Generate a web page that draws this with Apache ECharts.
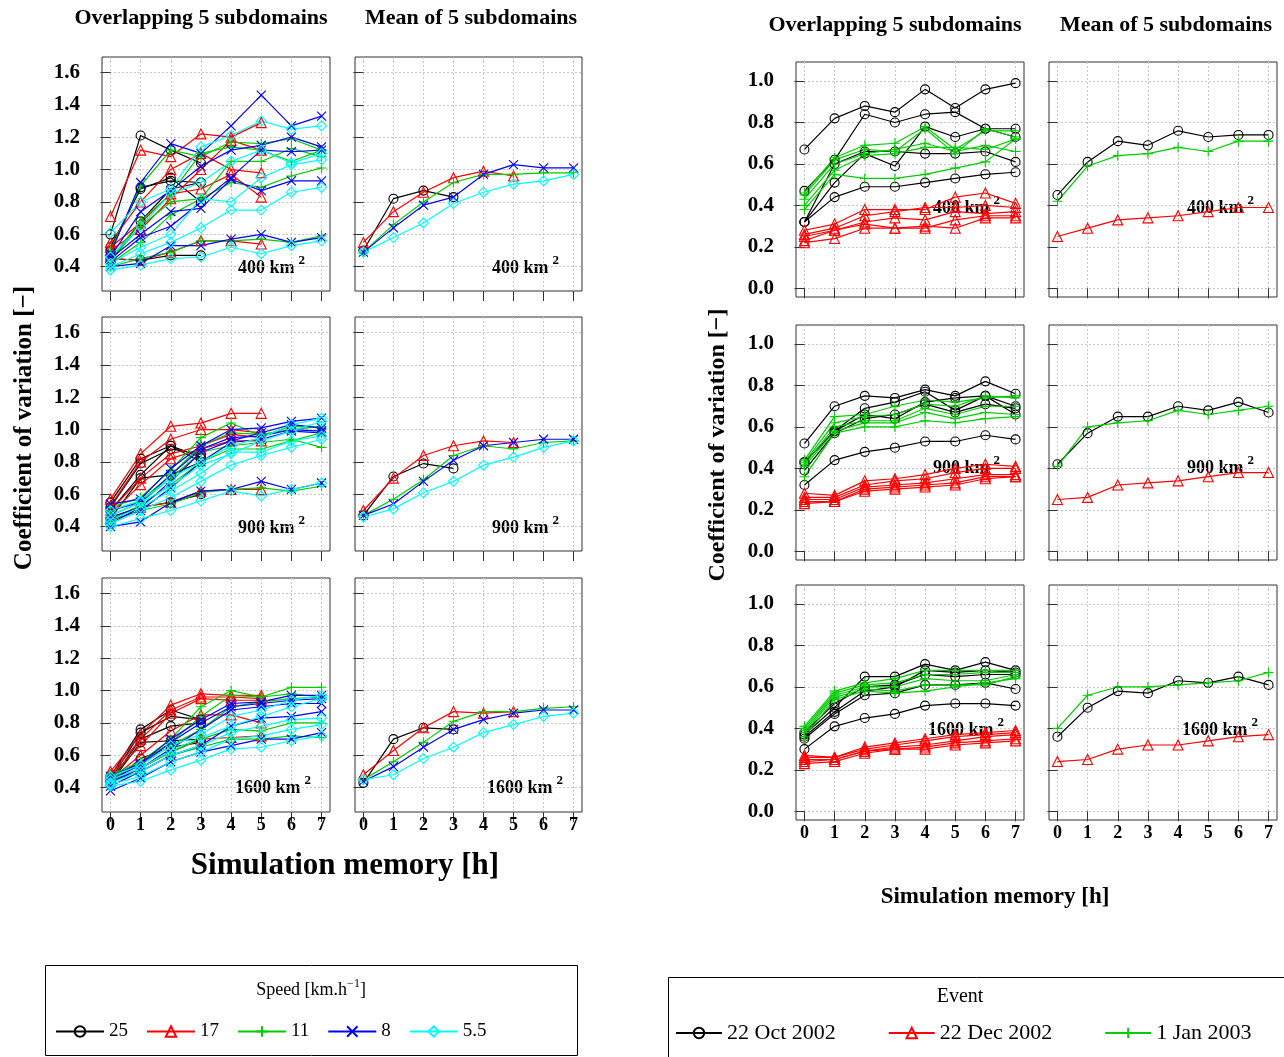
<!DOCTYPE html>
<html>
<head>
<meta charset="utf-8">
<script src="https://cdn.jsdelivr.net/npm/echarts@6/dist/echarts.min.js"></script>
<style>
  html, body { margin: 0; padding: 0; background: #fff; }
  #chart { width: 1284px; height: 1057px; }
</style>
</head>
<body>
<div id="chart"></div>
<script>
// x axis: simulation memory in hours
const memoryHours = [0, 1, 2, 3, 4, 5, 6, 7];
const yTicksSpeed = [0.4, 0.6, 0.8, 1.0, 1.2, 1.4, 1.6];
const yTicksEvent = [0, 0.2, 0.4, 0.6, 0.8, 1.0];
const speedNames = ['25', '17', '11', '8', '5.5'];
const eventNames = ['22 Oct 2002', '22 Dec 2002', '1 Jan 2003'];
const areaNames = ['400', '900', '1600'];

// ---- left figure: overlapping 5 subdomains, one array per area and speed ----
const ovl400_25 = [[0.60,1.21,1.12,1.04],[0.50,0.89,0.93,0.92],[0.52,0.88,0.95,0.80],[0.45,0.44,0.47,0.47],[0.43,0.68,0.88,0.92]];
const ovl400_17 = [[0.71,1.12,1.08,1.22,1.20,1.29],[0.55,0.80,1.00,1.10,1.00,0.98],[0.52,0.67,0.85,0.88,0.97,0.83],[0.50,0.63,0.82,1.00,1.18,1.12],[0.45,0.44,0.49,0.56,0.56,0.54]];
const ovl400_11 = [[0.50,0.90,1.12,1.08,1.17,1.16,1.19,1.12],[0.45,0.68,0.85,1.10,1.14,1.12,1.05,1.12],[0.44,0.65,0.80,0.82,0.92,0.89,0.96,1.01],[0.42,0.55,0.72,0.82,1.05,1.05,1.13,1.08],[0.40,0.45,0.49,0.56,0.56,0.57,0.55,0.59]];
const ovl400_8 = [[0.48,0.92,1.16,1.10,1.27,1.46,1.27,1.33],[0.46,0.74,0.87,1.02,1.12,1.15,1.20,1.14],[0.45,0.60,0.74,0.76,0.94,0.87,0.93,0.93],[0.43,0.58,0.65,0.80,0.95,1.12,1.11,1.12],[0.40,0.42,0.53,0.53,0.57,0.60,0.55,0.58]];
const ovl400_55 = [[0.61,0.80,0.88,1.14,1.21,1.30,1.25,1.27],[0.46,0.65,0.85,0.92,1.05,1.12,1.04,1.10],[0.42,0.52,0.60,0.82,0.80,0.95,1.03,1.06],[0.40,0.48,0.55,0.64,0.75,0.75,0.86,0.89],[0.38,0.41,0.45,0.46,0.52,0.48,0.53,0.56]];

const ovl900_25 = [[0.55,0.82,0.90,0.80],[0.52,0.79,0.88,0.85],[0.50,0.72,0.90,0.83],[0.45,0.70,0.72,0.80],[0.42,0.52,0.55,0.60]];
const ovl900_17 = [[0.57,0.85,1.02,1.04,1.10,1.10],[0.53,0.80,0.94,1.00,1.00,0.98],[0.50,0.70,0.85,0.90,0.97,0.95],[0.48,0.66,0.82,0.88,0.93,0.93],[0.45,0.52,0.55,0.62,0.63,0.63]];
const ovl900_11 = [[0.52,0.58,0.75,0.95,1.04,0.96,1.02,1.01],[0.50,0.56,0.72,0.90,0.98,0.97,1.00,1.02],[0.47,0.55,0.70,0.86,0.90,0.92,0.94,0.89],[0.45,0.53,0.66,0.80,0.88,0.88,0.93,0.98],[0.42,0.50,0.54,0.61,0.63,0.64,0.62,0.65]];
const ovl900_8 = [[0.54,0.57,0.76,0.90,1.00,1.01,1.05,1.07],[0.50,0.55,0.72,0.88,0.95,0.96,1.00,0.99],[0.46,0.52,0.68,0.86,0.93,0.98,1.03,1.01],[0.44,0.50,0.64,0.80,0.92,0.94,0.99,0.98],[0.40,0.43,0.55,0.62,0.63,0.68,0.63,0.67]];
const ovl900_55 = [[0.50,0.56,0.70,0.80,0.90,0.95,1.03,1.07],[0.47,0.55,0.65,0.78,0.85,0.93,0.99,1.05],[0.44,0.52,0.62,0.73,0.86,0.86,0.93,0.96],[0.42,0.50,0.58,0.68,0.78,0.84,0.89,0.94],[0.40,0.45,0.50,0.56,0.62,0.59,0.63,0.67]];

const ovl1600_25 = [[0.47,0.76,0.88,0.82],[0.45,0.74,0.84,0.82],[0.44,0.70,0.78,0.80],[0.43,0.68,0.69,0.70],[0.42,0.58,0.65,0.68]];
const ovl1600_17 = [[0.50,0.73,0.91,0.98,0.97,0.97],[0.48,0.70,0.88,0.96,0.96,0.95],[0.47,0.66,0.86,0.95,0.94,0.94],[0.45,0.60,0.75,0.85,0.85,0.80],[0.44,0.52,0.62,0.70,0.71,0.72]];
const ovl1600_11 = [[0.48,0.56,0.70,0.90,1.00,0.96,1.02,1.02],[0.47,0.55,0.68,0.84,0.97,0.96,0.98,0.96],[0.46,0.54,0.66,0.76,0.90,0.93,0.95,0.96],[0.45,0.52,0.62,0.70,0.76,0.75,0.80,0.80],[0.44,0.50,0.60,0.65,0.70,0.70,0.72,0.71]];
const ovl1600_8 = [[0.47,0.55,0.70,0.82,0.92,0.93,0.97,0.97],[0.45,0.54,0.68,0.80,0.90,0.92,0.94,0.95],[0.43,0.52,0.64,0.76,0.88,0.90,0.92,0.92],[0.41,0.50,0.60,0.66,0.78,0.83,0.84,0.87],[0.38,0.46,0.56,0.62,0.66,0.70,0.70,0.74]];
const ovl1600_55 = [[0.47,0.54,0.66,0.73,0.84,0.88,0.94,0.97],[0.45,0.52,0.63,0.71,0.78,0.84,0.90,0.95],[0.43,0.50,0.60,0.66,0.74,0.78,0.82,0.83],[0.42,0.47,0.56,0.62,0.70,0.72,0.76,0.79],[0.41,0.44,0.51,0.57,0.64,0.65,0.69,0.72]];

// ---- left figure: mean of 5 subdomains (25, 17, 11, 8, 5.5 km/h) ----
const mean400_speed = [[0.50,0.82,0.87,0.83],[0.55,0.74,0.86,0.95,0.99,0.96],[0.49,0.66,0.80,0.92,0.97,0.97,0.98,0.98],[0.49,0.64,0.78,0.83,0.97,1.03,1.01,1.01],[0.49,0.58,0.67,0.79,0.86,0.91,0.93,0.97]];
const mean900_speed = [[0.47,0.71,0.79,0.76],[0.50,0.70,0.84,0.90,0.93,0.92],[0.47,0.57,0.69,0.84,0.90,0.88,0.92,0.93],[0.47,0.54,0.68,0.81,0.90,0.92,0.94,0.94],[0.46,0.51,0.61,0.68,0.78,0.83,0.89,0.93]];
const mean1600_speed = [[0.43,0.70,0.77,0.76],[0.48,0.63,0.77,0.87,0.86,0.87],[0.45,0.56,0.68,0.81,0.87,0.87,0.89,0.90],[0.44,0.53,0.65,0.76,0.82,0.86,0.88,0.88],[0.45,0.48,0.58,0.65,0.74,0.79,0.84,0.86]];

// ---- right figure: overlapping 5 subdomains, one array per area and event ----
const ev400_oct = [[0.67,0.82,0.88,0.85,0.96,0.87,0.96,0.99],[0.47,0.62,0.84,0.80,0.84,0.85,0.77,0.77],[0.32,0.60,0.66,0.66,0.65,0.65,0.66,0.61],[0.32,0.51,0.65,0.59,0.78,0.73,0.77,0.73],[0.32,0.44,0.49,0.49,0.51,0.53,0.55,0.56]];
const ev400_dec = [[0.28,0.31,0.38,0.38,0.38,0.44,0.46,0.41],[0.26,0.29,0.35,0.37,0.39,0.39,0.40,0.39],[0.25,0.28,0.32,0.34,0.33,0.37,0.36,0.37],[0.23,0.28,0.31,0.29,0.29,0.33,0.35,0.35],[0.22,0.24,0.29,0.29,0.30,0.29,0.34,0.34]];
const ev400_jan = [[0.46,0.63,0.69,0.70,0.78,0.67,0.76,0.76],[0.45,0.62,0.67,0.66,0.77,0.65,0.77,0.73],[0.43,0.60,0.65,0.67,0.70,0.66,0.69,0.66],[0.40,0.57,0.64,0.65,0.68,0.68,0.67,0.72],[0.38,0.55,0.53,0.53,0.55,0.58,0.61,0.72]];

const ev900_oct = [[0.52,0.70,0.75,0.74,0.78,0.75,0.82,0.76],[0.43,0.58,0.69,0.72,0.77,0.68,0.75,0.70],[0.39,0.57,0.64,0.66,0.71,0.67,0.71,0.69],[0.32,0.44,0.48,0.50,0.53,0.53,0.56,0.54],[0.43,0.58,0.66,0.64,0.72,0.74,0.75,0.66]];
const ev900_dec = [[0.28,0.27,0.34,0.35,0.37,0.40,0.42,0.41],[0.26,0.26,0.32,0.34,0.35,0.38,0.40,0.40],[0.25,0.25,0.31,0.32,0.33,0.35,0.37,0.37],[0.24,0.24,0.30,0.31,0.32,0.33,0.36,0.36],[0.23,0.24,0.29,0.30,0.31,0.32,0.35,0.36]];
const ev900_jan = [[0.44,0.65,0.66,0.70,0.73,0.72,0.74,0.75],[0.43,0.62,0.65,0.66,0.71,0.70,0.75,0.74],[0.42,0.60,0.63,0.63,0.69,0.66,0.70,0.70],[0.41,0.58,0.62,0.62,0.67,0.64,0.67,0.66],[0.36,0.57,0.60,0.60,0.63,0.62,0.64,0.65]];

const ev1600_oct = [[0.37,0.50,0.65,0.65,0.71,0.68,0.72,0.68],[0.36,0.48,0.58,0.60,0.68,0.67,0.68,0.67],[0.35,0.47,0.56,0.57,0.61,0.61,0.62,0.59],[0.30,0.41,0.45,0.47,0.51,0.52,0.52,0.51],[0.38,0.52,0.60,0.61,0.66,0.65,0.66,0.66]];
const ev1600_dec = [[0.27,0.26,0.31,0.33,0.35,0.37,0.38,0.39],[0.26,0.26,0.30,0.32,0.34,0.36,0.37,0.38],[0.25,0.25,0.29,0.31,0.32,0.34,0.36,0.37],[0.24,0.25,0.29,0.30,0.31,0.33,0.34,0.35],[0.23,0.24,0.28,0.30,0.30,0.32,0.33,0.34]];
const ev1600_jan = [[0.41,0.58,0.62,0.64,0.68,0.68,0.68,0.68],[0.40,0.57,0.61,0.62,0.66,0.66,0.67,0.67],[0.39,0.56,0.60,0.60,0.64,0.63,0.63,0.66],[0.38,0.55,0.59,0.58,0.61,0.61,0.61,0.65],[0.36,0.54,0.58,0.57,0.58,0.60,0.62,0.64]];

// ---- right figure: mean of 5 subdomains (Oct, Dec, Jan) ----
const mean400_event = [[0.45,0.61,0.71,0.69,0.76,0.73,0.74,0.74],[0.25,0.29,0.33,0.34,0.35,0.37,0.39,0.39],[0.42,0.59,0.64,0.65,0.68,0.66,0.71,0.71]];
const mean900_event = [[0.42,0.57,0.65,0.65,0.70,0.68,0.72,0.67],[0.25,0.26,0.32,0.33,0.34,0.36,0.38,0.38],[0.41,0.60,0.62,0.63,0.68,0.66,0.68,0.70]];
const mean1600_event = [[0.36,0.50,0.58,0.57,0.63,0.62,0.65,0.61],[0.24,0.25,0.30,0.32,0.32,0.34,0.36,0.37],[0.40,0.56,0.60,0.60,0.61,0.62,0.63,0.67]];

const speedOverlap = [
  [ovl400_25, ovl400_17, ovl400_11, ovl400_8, ovl400_55],
  [ovl900_25, ovl900_17, ovl900_11, ovl900_8, ovl900_55],
  [ovl1600_25, ovl1600_17, ovl1600_11, ovl1600_8, ovl1600_55]
];
const speedMean = [mean400_speed, mean900_speed, mean1600_speed];
const eventOverlap = [
  [ev400_oct, ev400_dec, ev400_jan],
  [ev900_oct, ev900_dec, ev900_jan],
  [ev1600_oct, ev1600_dec, ev1600_jan]
];
const eventMean = [mean400_event, mean900_event, mean1600_event];

// R base palette: black, red, green3, blue, cyan
const colors = ['#000000', '#ff0000', '#00cd00', '#0000ff', '#00ffff'];
const symbols = ['circle', 'triangle', 'path://M5,0V10M0,5H10', 'path://M0,0L10,10M0,10L10,0', 'diamond'];
const symbolSizes = [9, 10, 10, 9, 10];

const serif = "'Liberation Serif', 'DejaVu Serif', serif";
const grids = [], xAxes = [], yAxes = [], series = [];

function addPanel(left, top, width, height, yMin, yMax, yTicks, yLabels, xLabels) {
  const idx = grids.length;
  grids.push({ left, top, width, height, show: true, borderColor: '#333', borderWidth: 1, backgroundColor: 'transparent' });
  xAxes.push({
    gridIndex: idx, type: 'value', min: -0.28, max: 7.28,
    axisLine: { show: false },
    axisTick: { show: true, inside: false, length: 10, customValues: memoryHours, lineStyle: { color: '#333' } },
    axisLabel: { show: xLabels, customValues: memoryHours, margin: 4, color: '#000', fontFamily: serif, fontWeight: 'bold', fontSize: 18 },
    splitLine: { show: true, lineStyle: { type: [2, 2], color: '#c8c8c8', width: 1 } }
  });
  yAxes.push({
    gridIndex: idx, type: 'value', min: yMin, max: yMax,
    axisLine: { show: false },
    axisTick: { show: true, inside: false, length: 10, customValues: yTicks, lineStyle: { color: '#333' } },
    axisLabel: { show: yLabels, customValues: yTicks, margin: 22, color: '#000', fontFamily: serif, fontWeight: 'bold', fontSize: 21,
      formatter: v => v.toFixed(1) },
    splitLine: { show: true, lineStyle: { type: [2, 2], color: '#c8c8c8', width: 1 } }
  });
  return idx;
}

function addLine(axisIdx, name, vals, k) {
  series.push({
    type: 'line', name, xAxisIndex: axisIdx, yAxisIndex: axisIdx,
    data: vals.map((v, i) => [memoryHours[i], v]),
    symbol: symbols[k], symbolSize: symbolSizes[k], showSymbol: true, showAllSymbol: true,
    lineStyle: { color: colors[k], width: 1.2 },
    itemStyle: { color: 'rgba(0,0,0,0)', borderColor: colors[k], borderWidth: 1.1 },
    emphasis: { disabled: true }, silent: true, animation: false
  });
}

// left figure panels
const leftCols = [102, 355];
const leftRows = [57, 317, 578];
for (let r = 0; r < 3; r++) {
  const a = addPanel(leftCols[0], leftRows[r], 228, 234, 0.25, 1.695, yTicksSpeed, true, r === 2);
  speedOverlap[r].forEach((lines, k) => lines.forEach(vals => addLine(a, speedNames[k], vals, k)));
  const b = addPanel(leftCols[1], leftRows[r], 227, 234, 0.25, 1.695, yTicksSpeed, false, r === 2);
  speedMean[r].forEach((vals, k) => addLine(b, speedNames[k], vals, k));
}

// right figure panels
const rightCols = [796, 1049];
const rightRows = [62, 325, 585];
for (let r = 0; r < 3; r++) {
  const a = addPanel(rightCols[0], rightRows[r], 228, 235, -0.042, 1.092, yTicksEvent, true, r === 2);
  eventOverlap[r].forEach((lines, k) => lines.forEach(vals => addLine(a, eventNames[k], vals, k)));
  const b = addPanel(rightCols[1], rightRows[r], 228, 235, -0.042, 1.092, yTicksEvent, false, r === 2);
  eventMean[r].forEach((vals, k) => addLine(b, eventNames[k], vals, k));
}

// text annotations
const graphics = [];
function txt(x, y, text, size, opts) {
  graphics.push(Object.assign({
    type: 'text', x, y,
    style: Object.assign({ text, fill: '#000', font: 'bold ' + size + 'px ' + serif, textAlign: 'center', textVerticalAlign: 'middle' }, opts && opts.style)
  }, opts && opts.el));
}
function areaLabel(x, y, area) {
  graphics.push({
    type: 'text', x, y,
    style: {
      text: area + ' km{sup|2}', fill: '#000', font: 'bold 18px ' + serif,
      textAlign: 'left', textVerticalAlign: 'middle',
      rich: { sup: { fontSize: 13, fontWeight: 'bold', fontFamily: serif, padding: [0, 0, 14, 4] } }
    }
  });
}

txt(201, 18, 'Overlapping 5 subdomains', 22);
txt(471, 18, 'Mean of 5 subdomains', 22);
txt(895, 25, 'Overlapping 5 subdomains', 22);
txt(1166, 25, 'Mean of 5 subdomains', 22);
txt(25, 428, 'Coefficient of variation [\u2212]', 25, { el: { rotation: Math.PI / 2 } });
txt(718, 445, 'Coefficient of variation [\u2212]', 24, { el: { rotation: Math.PI / 2 } });
txt(345, 866, 'Simulation memory [h]', 31);
txt(995, 897, 'Simulation memory [h]', 23);

const leftLabelY = [268, 528, 788];
const rightLabelY = [208, 468, 730];
for (let r = 0; r < 3; r++) {
  areaLabel(r === 2 ? 235 : 238, leftLabelY[r], areaNames[r]);
  areaLabel(r === 2 ? 487 : 492, leftLabelY[r], areaNames[r]);
  areaLabel(r === 2 ? 928 : 933, rightLabelY[r], areaNames[r]);
  areaLabel(r === 2 ? 1182 : 1187, rightLabelY[r], areaNames[r]);
}

// legend boxes and titles
graphics.push({ type: 'rect', shape: { x: 45.5, y: 965.5, width: 532, height: 90 }, style: { fill: 'none', stroke: '#000', lineWidth: 1 } });
graphics.push({ type: 'rect', shape: { x: 668.5, y: 977.5, width: 640, height: 90 }, style: { fill: 'none', stroke: '#000', lineWidth: 1 } });
graphics.push({
  type: 'text', x: 311, y: 990,
  style: { text: 'Speed [km.h{sup|\u22121}]', fill: '#000', font: '18px ' + serif, textAlign: 'center', textVerticalAlign: 'middle',
    rich: { sup: { fontSize: 12, fontFamily: serif, padding: [0, 0, 12, 0] } } }
});
txt(960, 997, 'Event', 20, { style: { font: '20px ' + serif } });

const chart = echarts.init(document.getElementById('chart'), null, { renderer: 'canvas' });
chart.setOption({
  backgroundColor: '#fff',
  animation: false,
  grid: grids,
  xAxis: xAxes,
  yAxis: yAxes,
  series: series,
  legend: [
    { data: speedNames, left: 50, top: 1017, itemWidth: 48, itemHeight: 13, itemGap: 18,
      textStyle: { fontFamily: serif, fontSize: 19, color: '#000' }, selectedMode: false },
    { data: eventNames, left: 670, top: 1017, itemWidth: 46, itemHeight: 13, itemGap: 52,
      textStyle: { fontFamily: serif, fontSize: 22, color: '#000' }, selectedMode: false }
  ],
  graphic: graphics
});
</script>
</body>
</html>
